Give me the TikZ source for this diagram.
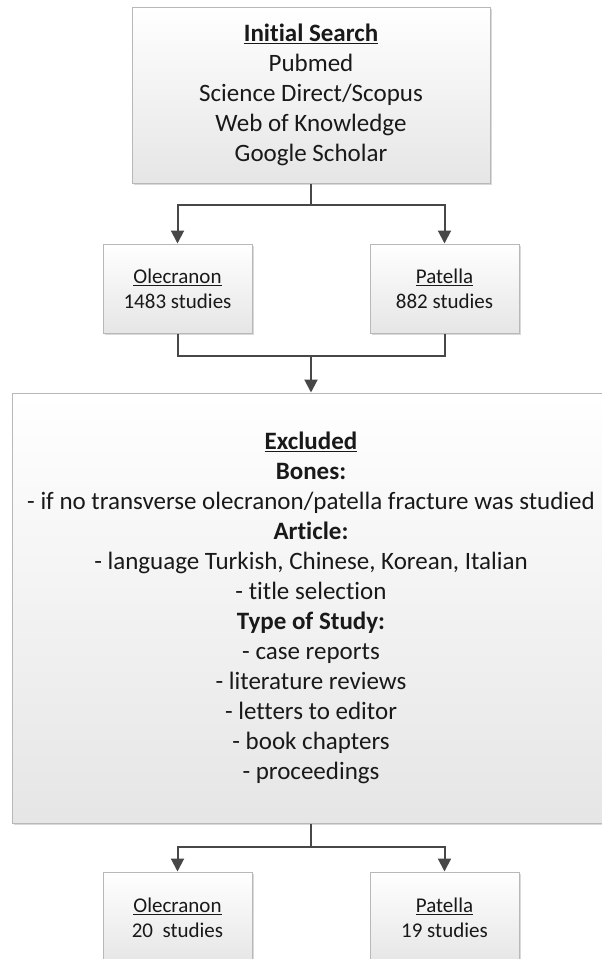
\documentclass[tikz,border=0pt]{standalone}
\usepackage{fontspec}
\setmainfont{Carlito}[Ligatures=NoCommon]
\usetikzlibrary{arrows.meta,shadows}

\tikzset{
  box/.style={draw=black!28, line width=1pt, top color=white, bottom color=black!10,
    drop shadow={shadow xshift=2pt, shadow yshift=-2pt, opacity=.25, fill=black!60},
    align=center, inner sep=0pt, text=black!90},
  bigbox/.style={box, font=\fontsize{25}{30}\selectfont},
  smallbox/.style={box, font=\fontsize{21}{25}\selectfont, minimum width=149pt, minimum height=89pt},
  link/.style={draw=black!72, line width=2pt},
  arrow/.style={link, -{Triangle[length=13pt, width=13pt]}}
}

\begin{document}
\begin{tikzpicture}[x=1pt, y=-1pt]
        \useasboundingbox (0,0) rectangle (602,959);

        \node (search) [bigbox, minimum width=358pt, minimum height=176pt] at (311,95)
            {\textbf{\underline{Initial Search}}\\Pubmed\\Science Direct/Scopus\\Web of Knowledge\\Google Scholar};
        \node (olecA) [smallbox] at (177.5,288.5) {\underline{Olecranon}\\1483 studies};
        \node (patA) [smallbox] at (444.5,288.5) {\underline{Patella}\\882 studies};
        \node (excl) [bigbox, minimum width=598pt, minimum height=430pt] at (311,608)
            {\textbf{\underline{Excluded}}\\\textbf{Bones:}\\- if no transverse olecranon/patella fracture was studied\\
             \textbf{Article:}\\- language Turkish, Chinese, Korean, Italian\\- title selection\\
             \textbf{Type of Study:}\\- case reports\\- literature reviews\\- letters to editor\\- book chapters\\- proceedings};
        \node (olecB) [smallbox, minimum height=92pt] at (177.5,918) {\underline{Olecranon}\\20~~studies};
        \node (patB) [smallbox, minimum height=92pt] at (444.5,918) {\underline{Patella}\\19 studies};

        \coordinate (splitA) at (311,205);
        \coordinate (mergeA) at (311,356);
        \coordinate (splitB) at (311,847);

        \draw[link] (search) -- (splitA);
        \draw[arrow] (splitA) -| (olecA);
        \draw[arrow] (splitA) -| (patA);
        \draw[link] (olecA) |- (mergeA);
        \draw[link] (patA) |- (mergeA);
        \draw[arrow] (mergeA) -- (excl);
        \draw[link] (excl) -- (splitB);
        \draw[arrow] (splitB) -| (olecB);
        \draw[arrow] (splitB) -| (patB);
    \end{tikzpicture}
\end{document}
